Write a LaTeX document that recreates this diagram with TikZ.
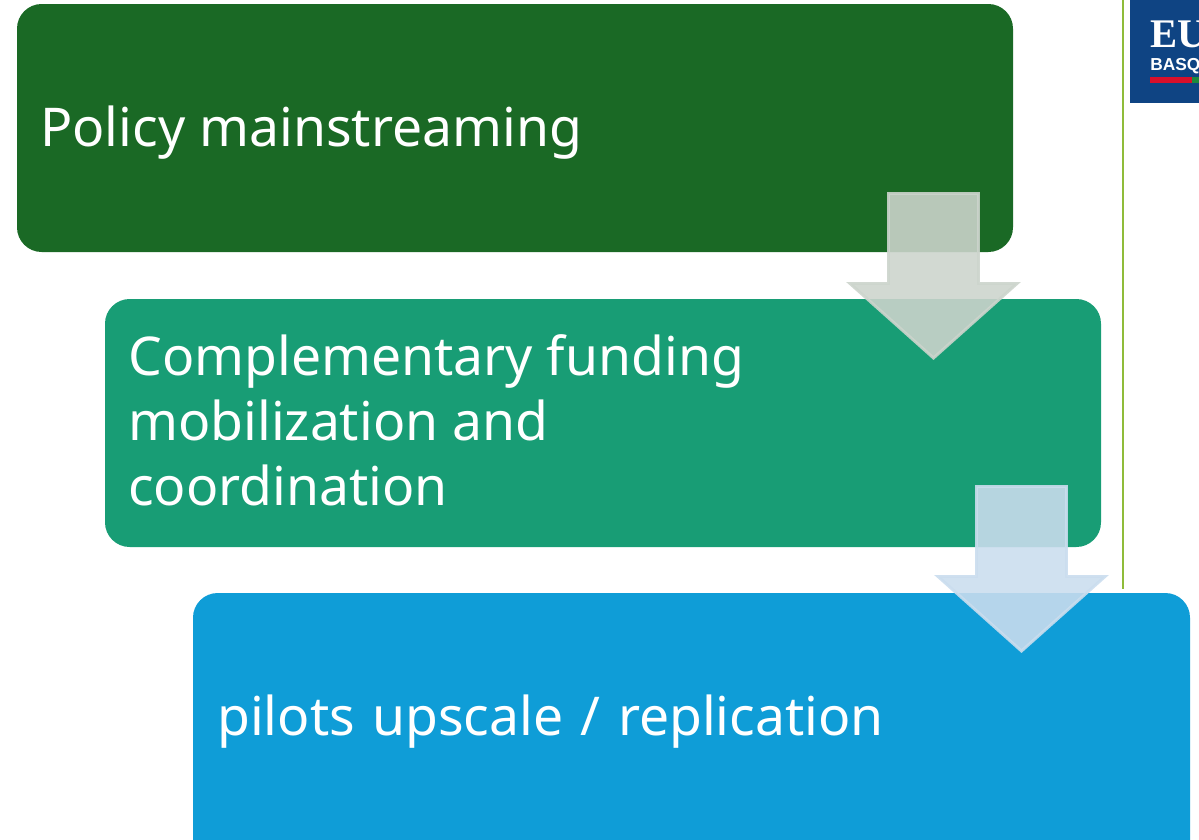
\documentclass[tikz,border=0pt]{standalone}
\usepackage{fontspec}
\setmainfont{Noto Sans}
\newfontfamily\logoserif{Liberation Serif}
\newfontfamily\logosans{Liberation Sans}
\definecolor{boxa}{HTML}{1A6925}
\definecolor{boxb}{HTML}{189D75}
\definecolor{boxc}{HTML}{0F9DD7}
\definecolor{arrowa}{HTML}{CCD4CC}
\definecolor{arrowb}{HTML}{CADDEE}
\definecolor{rulegreen}{HTML}{8FBC3A}
\definecolor{logoblue}{HTML}{0F4483}
\definecolor{logored}{HTML}{D9102A}
\definecolor{logogreen}{HTML}{1E8A3C}
\tikzset{
  stagebox/.style={rounded corners=18.5pt,draw=none},
  stagetext/.style={anchor=base west,text=white,font=\fontsize{40.1}{48.75}\selectfont,align=left,inner sep=0pt},
  downarrow/.style={fill opacity=.89,draw opacity=.9,line width=2.2pt,line join=miter},
}
\begin{document}
\begin{tikzpicture}[x=0.75pt,y=-0.75pt]
\useasboundingbox (0,0) rectangle (1199,839);
\clip (0,0) rectangle (1199,839);
% rule and logo
\draw[rulegreen,line width=1.8pt] (1123,0) -- (1123,589);
\fill[logoblue] (1130,-2) rectangle (1199,103);
\node[anchor=base west,inner sep=0pt,text=white,font=\logoserif\bfseries\fontsize{30.5}{30}\selectfont] (logoeu) at (1150,47) {EU};
\node[anchor=base west,inner sep=0pt,text=white,font=\logosans\bfseries\fontsize{13}{13}\selectfont] (logobasq) at (1150,70) {BASQ};
\fill[logored] (1150,77) rectangle (1192,83);
\fill[logogreen] (1192,77) rectangle (1199,83);
% boxes
\fill[boxa,stagebox] (17,4) rectangle (1013,252);
\fill[boxb,stagebox] (105,299) rectangle (1101,547);
\fill[boxc,stagebox] (193,593) rectangle (1190,870);
% text
\node[stagetext] (t1) at (40,146) {Policy mainstreaming};
\node[stagetext,anchor=west] (t2) at (128,420) {Complementary funding\\mobilization and\\coordination};
\node[stagetext] (t3) at (217,735) {\spaceskip=13pt pilots upscale / replication\hspace{2.5pt}\kern-2.5pt};
% arrows
\filldraw[downarrow,fill=arrowa,draw=arrowa]
  (888.5,193.5) -- (978.5,193.5) -- (978.5,283.5) -- (1017,283.5) -- (933.5,358) -- (850,283.5) -- (888.5,283.5) -- cycle;
\filldraw[downarrow,fill=arrowb,draw=arrowb]
  (976.5,486.5) -- (1066.5,486.5) -- (1066.5,576.5) -- (1105,576.5) -- (1021.5,651) -- (938,576.5) -- (976.5,576.5) -- cycle;
\end{tikzpicture}
\end{document}
